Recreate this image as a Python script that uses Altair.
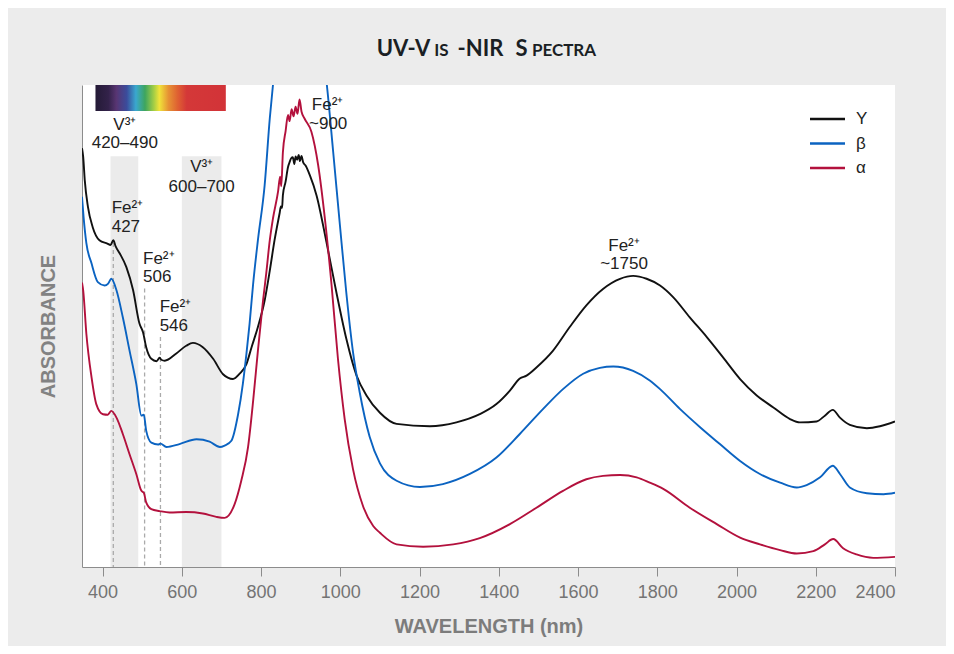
import altair as alt
import pandas as pd

# ---------------- data ----------------
series_names = ["Y", "β", "α"]
series_colors = ["#111111", "#0b63c1", "#b3113d"]

gamma_wl = [348, 351, 355, 363, 375, 392, 412, 420, 427, 433, 443, 460, 477, 493, 502, 510, 523, 536, 544, 548,
            557, 586, 611, 628, 653, 679, 704, 716, 729, 746, 763, 776, 792, 809, 822, 834, 847, 850, 853, 855,
            862, 868, 872, 876, 880, 884, 887, 891, 895, 898, 902, 906, 913, 923, 940, 965, 990, 1015, 1041, 1066,
            1100, 1142, 1226, 1293, 1352, 1394, 1428, 1453, 1470, 1495, 1537, 1579, 1621, 1663, 1706, 1739, 1773,
            1807, 1840, 1882, 1925, 1966, 2009, 2051, 2093, 2135, 2160, 2202, 2223, 2243, 2261, 2286, 2329, 2362, 2400]
gamma_abs = [0.869, 0.851, 0.802, 0.747, 0.705, 0.678, 0.671, 0.668, 0.678, 0.665, 0.651, 0.622, 0.574, 0.505, 0.487,
             0.456, 0.432, 0.427, 0.434, 0.430, 0.428, 0.443, 0.459, 0.465, 0.456, 0.432, 0.400, 0.393, 0.390, 0.401,
             0.421, 0.456, 0.498, 0.553, 0.615, 0.678, 0.735, 0.748, 0.745, 0.771, 0.800, 0.830, 0.840, 0.848, 0.850,
             0.836, 0.852, 0.845, 0.855, 0.842, 0.853, 0.840, 0.832, 0.813, 0.771, 0.674, 0.570, 0.474, 0.397, 0.356,
             0.320, 0.297, 0.292, 0.300, 0.317, 0.338, 0.366, 0.391, 0.397, 0.414, 0.449, 0.498, 0.543, 0.577, 0.598,
             0.604, 0.598, 0.584, 0.560, 0.518, 0.477, 0.435, 0.390, 0.356, 0.331, 0.307, 0.300, 0.302, 0.314, 0.326,
             0.310, 0.295, 0.288, 0.292, 0.302]

beta_wl = [348, 352, 359, 372, 388, 405, 414, 422, 435, 451, 468, 485, 498, 504, 510, 523, 540, 546, 561, 594,
           637, 670, 696, 708, 725, 742, 754, 763, 771, 780, 792, 809, 822, 830, 847, 897, 947, 966, 982, 999,
           1015, 1032, 1049, 1074, 1100, 1142, 1201, 1259, 1327, 1394, 1453, 1512, 1562, 1613, 1655, 1689, 1739,
           1781, 1807, 1857, 1908, 1958, 2009, 2059, 2110, 2152, 2177, 2211, 2243, 2261, 2286, 2329, 2371, 2400]
beta_abs = [0.768, 0.726, 0.672, 0.630, 0.591, 0.584, 0.588, 0.598, 0.574, 0.518, 0.449, 0.380, 0.314, 0.316, 0.283,
            0.258, 0.254, 0.256, 0.249, 0.255, 0.265, 0.260, 0.249, 0.252, 0.262, 0.317, 0.380, 0.442, 0.505, 0.588,
            0.678, 0.792, 0.931, 1.000, 1.120, 1.250, 1.120, 1.000, 0.861, 0.709, 0.570, 0.446, 0.362, 0.270, 0.215,
            0.179, 0.166, 0.172, 0.193, 0.227, 0.276, 0.328, 0.369, 0.401, 0.413, 0.416, 0.407, 0.387, 0.369, 0.328,
            0.290, 0.255, 0.220, 0.193, 0.175, 0.165, 0.170, 0.186, 0.210, 0.193, 0.165, 0.153, 0.151, 0.154]

alpha_wl = [348, 351, 359, 372, 384, 401, 413, 422, 435, 451, 468, 485, 498, 504, 510, 523, 544, 569, 611, 653,
            687, 708, 733, 750, 767, 780, 792, 805, 813, 822, 830, 843, 848, 851, 855, 862, 868, 872, 877, 882,
            887, 892, 897, 902, 910, 927, 944, 961, 978, 994, 1011, 1032, 1057, 1083, 1100, 1142, 1209, 1285,
            1352, 1428, 1495, 1562, 1621, 1663, 1706, 1748, 1781, 1815, 1882, 1950, 2009, 2059, 2110, 2152, 2194,
            2223, 2244, 2269, 2303, 2345, 2400]
alpha_abs = [0.590, 0.574, 0.484, 0.394, 0.338, 0.317, 0.316, 0.324, 0.310, 0.276, 0.234, 0.193, 0.158, 0.154, 0.134,
             0.120, 0.116, 0.113, 0.114, 0.111, 0.104, 0.102, 0.130, 0.179, 0.248, 0.345, 0.449, 0.553, 0.609, 0.678,
             0.723, 0.780, 0.810, 0.790, 0.860, 0.905, 0.938, 0.925, 0.950, 0.935, 0.955, 0.940, 0.970, 0.945, 0.930,
             0.903, 0.834, 0.723, 0.584, 0.432, 0.307, 0.203, 0.127, 0.085, 0.071, 0.047, 0.042, 0.047, 0.060, 0.089,
             0.123, 0.158, 0.182, 0.189, 0.191, 0.186, 0.175, 0.162, 0.123, 0.089, 0.061, 0.047, 0.035, 0.028, 0.033,
             0.047, 0.058, 0.039, 0.026, 0.019, 0.021]

# shaded V3+ bands (nm) and their top (absorbance units)
band_start = [420, 600]
band_end = [490, 700]
band_top = [0.852, 0.852]

# dashed Fe2+ markers
marker_wl = [427, 506, 546]
marker_top = [0.672, 0.578, 0.477]

# visible-spectrum strip (nm range)
strip_start = [382]
strip_end = [711]
strip_top = [1.0]
strip_bottom = [0.946]

# annotations
center_text = ["V³⁺", "420–490", "V³⁺", "600–700", "Fe²⁺", "~1750"]
center_wl = [456, 456, 650, 650, 1716, 1716]
center_abs = [0.918, 0.879, 0.829, 0.789, 0.667, 0.629]

left_text = ["Fe²⁺", "427", "Fe²⁺", "506", "Fe²⁺", "546", "Fe²⁺", "~900"]
left_wl = [423, 423, 502, 502, 544, 544, 928, 921]
left_abs = [0.744, 0.705, 0.640, 0.601, 0.539, 0.501, 0.958, 0.920]

x_ticks = [400, 600, 800, 1000, 1200, 1400, 1600, 1800, 2000, 2200, 2400]

# ---------------- tables ----------------
rows = []
for name, wls, abss in [("Y", gamma_wl, gamma_abs), ("β", beta_wl, beta_abs), ("α", alpha_wl, alpha_abs)]:
    for w, a in zip(wls, abss):
        rows.append({"series": name, "wavelength": w, "absorbance": a})
spectra = pd.DataFrame(rows)

bands = pd.DataFrame({"start": band_start, "end": band_end, "top": band_top, "bottom": [0, 0]})
markers = pd.DataFrame({"wl": marker_wl, "top": marker_top, "bottom": [0] * len(marker_wl)})
strip = pd.DataFrame({"start": strip_start, "end": strip_end, "top": strip_top, "bottom": strip_bottom})
ann_c = pd.DataFrame({"text": center_text, "wl": center_wl, "ab": center_abs})
ann_l = pd.DataFrame({"text": left_text, "wl": left_wl, "ab": left_abs})

FONT = "Liberation Sans"

xs = alt.Scale(domain=[348, 2400], nice=False, zero=False)
ys = alt.Scale(domain=[0, 1], nice=False, zero=False)

x_axis = alt.Axis(title="WAVELENGTH (nm)", values=x_ticks, format="d", grid=False,
                  domainColor="#8c8c8c", tickColor="#8c8c8c", tickSize=9, tickWidth=1,
                  labelColor="#747474", labelFont=FONT, labelFontSize=18, labelPadding=7,
                  titleFont=FONT, titleFontSize=20, titleFontWeight="bold", titleColor="#7c7c7c",
                  titlePadding=15)
y_axis = alt.Axis(title="ABSORBANCE", ticks=False, labels=False, grid=False,
                  domainColor="#8c8c8c", titleFont=FONT, titleFontSize=20, titleFontWeight="bold",
                  titleColor="#828282", titlePadding=24)


def X(field):
    return alt.X(field, scale=xs, axis=x_axis)


def Y(field):
    return alt.Y(field, scale=ys, axis=y_axis)


band_layer = alt.Chart(bands).mark_rect(color="#ebebeb").encode(
    x=X("start:Q"), x2="end:Q", y=Y("top:Q"), y2="bottom:Q")

marker_layer = alt.Chart(markers).mark_rule(color="#aaaaaa", strokeDash=[4, 3], strokeWidth=1.3).encode(
    x=X("wl:Q"), y=Y("top:Q"), y2="bottom:Q")

gradient = {
    "gradient": "linear", "x1": 0, "x2": 1, "y1": 0, "y2": 0,
    "stops": [
        {"offset": 0.0, "color": "#241a36"},
        {"offset": 0.10, "color": "#33224a"},
        {"offset": 0.16, "color": "#583572"},
        {"offset": 0.24, "color": "#3b4c9c"},
        {"offset": 0.31, "color": "#3aa8cf"},
        {"offset": 0.38, "color": "#3ea55e"},
        {"offset": 0.45, "color": "#a8cf44"},
        {"offset": 0.49, "color": "#f0e33a"},
        {"offset": 0.56, "color": "#e69234"},
        {"offset": 0.63, "color": "#df6132"},
        {"offset": 0.70, "color": "#d43838"},
        {"offset": 1.0, "color": "#d23338"},
    ],
}
strip_layer = alt.Chart(strip).mark_rect(fill=gradient).encode(
    x=X("start:Q"), x2="end:Q", y=Y("top:Q"), y2="bottom:Q")

lines = alt.Chart(spectra).mark_line(clip=True, strokeWidth=1.9, interpolate="monotone").encode(
    x=X("wavelength:Q"),
    y=Y("absorbance:Q"),
    color=alt.Color("series:N", scale=alt.Scale(domain=series_names, range=series_colors), legend=None),
    order=alt.Order("wavelength:Q"),
)

text_c = alt.Chart(ann_c).mark_text(align="center", baseline="middle", font=FONT, fontSize=17,
                                    color="#222222").encode(x=X("wl:Q"), y=Y("ab:Q"), text="text:N")
text_l = alt.Chart(ann_l).mark_text(align="left", baseline="middle", font=FONT, fontSize=17,
                                    color="#222222").encode(x=X("wl:Q"), y=Y("ab:Q"), text="text:N")

# legend (manual, top right)
legend_layers = []
legend_df = pd.DataFrame({"series": series_names, "label": series_names})
for i, (name, col) in enumerate(zip(series_names, series_colors)):
    yy = 34 + i * 24.5
    sub = legend_df[legend_df.series == name]
    legend_layers.append(alt.Chart(sub).mark_rule(color=col, strokeWidth=2.6).encode(
        x=alt.value(728), x2=alt.value(763), y=alt.value(yy)))
    legend_layers.append(alt.Chart(sub).mark_text(align="left", baseline="middle", font=FONT, fontSize=17,
                                                  color="#222222").encode(
        x=alt.value(774), y=alt.value(yy), text="label:N"))

# title in small caps built from segments
title_parts = ["UV-V", "IS", "-NIR", "S", "PECTRA"]
title_sizes = [22, 17, 22, 22, 17]
title_centers = [321.5, 359.5, 398.5, 439.5, 482]
title_df = pd.DataFrame({"t": title_parts})
title_layers = []
for part, size, cx in zip(title_parts, title_sizes, title_centers):
    title_layers.append(alt.Chart(title_df[title_df.t == part]).mark_text(
        align="center", baseline="alphabetic", font="Lato", fontWeight="bold", fontSize=size,
        color="#1a1f24").encode(x=alt.value(cx), y=alt.value(-29), text="t:N"))

chart = alt.layer(
    band_layer, marker_layer, strip_layer, lines, text_c, text_l, *legend_layers, *title_layers
).properties(
    width=813, height=482,
    padding={"left": 74, "top": 77, "right": 51, "bottom": 79},
    autosize=alt.AutoSizeParams(type="none"),
    background="#ececec",
).configure_view(fill="white", stroke=None)

chart.save("out.html", embed_options={"renderer": "svg", "actions": False})
